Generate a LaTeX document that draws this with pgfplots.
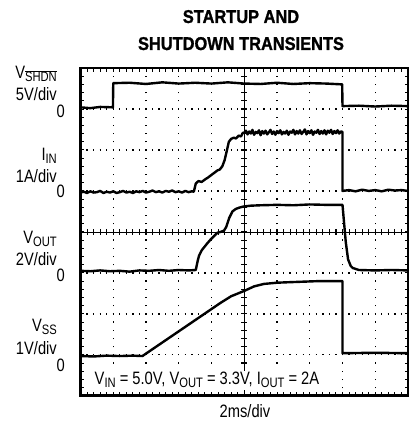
\documentclass[border=0pt]{standalone}
\usepackage{fontspec}
\setmainfont[FakeStretch=0.82]{Liberation Sans}
\newfontfamily\titlefont[FakeStretch=0.885, BoldFeatures={FakeBold=1.2}]{Liberation Sans}
\usepackage{pgfplots}
\pgfplotsset{compat=1.18}
\pgfplotsset{trace/.style={black, no markers, line width=2.4bp, line join=round}}
\newcommand\lab{\fontsize{18}{20}\selectfont}
\newcommand\sub[1]{\raisebox{-3bp}{\fontsize{13.7}{14}\selectfont #1}}
\newcommand\subo[1]{\raisebox{-3bp}{$\overline{\hbox{\fontsize{13.7}{14}\selectfont #1}}$}}
\begin{document}
\begin{tikzpicture}
\path[use as bounding box] (0,0) rectangle (413bp,429bp);
% graticule
\begin{scope}[shift={(80.5bp,33.2bp)}, x=32.75bp, y=40.97bp]
  \foreach \k in {1,2,3,5,6,7}
    \draw[line width=1.3bp, dash pattern=on 1.3bp off 5.25bp, dash phase=0.65bp] (0,\k) -- (10,\k);
  \foreach \k in {1,2,3,4,6,7,8,9}
    \draw[line width=1.3bp, dash pattern=on 1.3bp off 6.894bp, dash phase=0.65bp] (\k,0) -- (\k,8);
  \draw[line width=0.7bp] (5,0) -- (5,8);
  \draw[line width=0.7bp] (0,4) -- (10,4);
  \foreach \i in {1,...,39}
    \draw[line width=1.1bp] ([xshift=-3bp]5,\i*0.2) -- ([xshift=3bp]5,\i*0.2);
  \foreach \i in {1,...,49}
    \draw[line width=1.1bp] ([yshift=-3bp]\i*0.2,4) -- ([yshift=3bp]\i*0.2,4);
  \foreach \i in {1,...,49} {
    \draw[line width=1bp] (\i*0.2,0) -- ([yshift=3.5bp]\i*0.2,0);
    \draw[line width=1bp] (\i*0.2,8) -- ([yshift=-3.5bp]\i*0.2,8);
  }
  \foreach \i in {1,...,39} {
    \draw[line width=1bp] (0,\i*0.2) -- ([xshift=3.5bp]0,\i*0.2);
    \draw[line width=1bp] (10,\i*0.2) -- ([xshift=-3.5bp]10,\i*0.2);
  }
\end{scope}
\begin{axis}[
  at={(80.5bp,33.2bp)}, anchor=south west,
  scale only axis, width=327.5bp, height=327.8bp,
  xmin=0, xmax=10, ymin=0, ymax=8,
  xtick=\empty, ytick=\empty,
  axis line style={line width=2.8bp},
]
% V_SHDN
\addplot[trace] coordinates {(0,7.04) (0.3,7.02) (0.6,7.05) (0.99,7.04) (1.0,7.63) (1.5,7.64) (2,7.61) (2.5,7.65) (3,7.62) (3.5,7.64) (4,7.62) (4.5,7.65) (5,7.62) (5.5,7.61) (6,7.64) (6.5,7.61) (7,7.63) (7.5,7.62) (7.99,7.60) (8.0,7.07) (8.5,7.08) (9,7.06) (9.5,7.08) (10,7.07)};
% I_IN
\addplot[trace] coordinates {(0,4.96) (0.1,4.98) (0.2,4.95) (0.3,4.99) (0.4,4.96) (0.5,4.97) (0.6,5.0) (0.7,4.95) (0.8,4.98) (0.9,4.96) (1.0,4.99) (1.1,4.95) (1.2,4.97) (1.3,5.0) (1.4,4.96) (1.5,4.98) (1.6,4.95) (1.7,4.99) (1.8,4.97) (1.9,5.0) (2.0,4.96) (2.1,4.98) (2.2,5.01) (2.3,4.97) (2.4,4.99) (2.5,4.96) (2.6,5.0) (2.7,4.98) (2.8,5.01) (2.9,4.97) (3.0,4.99) (3.1,4.96) (3.2,5.0) (3.3,4.97) (3.4,4.99) (3.46,4.98)
(3.52,5.18) (3.6,5.24) (3.7,5.22) (3.82,5.29) (3.9,5.33) (4.03,5.41) (4.1,5.45) (4.18,5.5) (4.25,5.52) (4.33,5.6) (4.4,5.75) (4.45,5.92) (4.53,6.2) (4.6,6.27) (4.68,6.3) (4.75,6.28) (4.83,6.35) (4.9,6.33) (4.96,6.42)
(5.00,6.42) (5.05,6.47) (5.10,6.38) (5.15,6.45) (5.20,6.40) (5.25,6.49) (5.30,6.37) (5.35,6.44) (5.40,6.41) (5.45,6.48) (5.50,6.36) (5.55,6.46) (5.60,6.40) (5.65,6.47) (5.70,6.38) (5.75,6.43) (5.80,6.49) (5.85,6.39) (5.90,6.45) (5.95,6.37) (6.00,6.46) (6.05,6.41) (6.10,6.48) (6.15,6.38) (6.20,6.44) (6.25,6.40) (6.30,6.47) (6.35,6.37) (6.40,6.45) (6.45,6.42) (6.50,6.49) (6.55,6.38) (6.60,6.46) (6.65,6.40) (6.70,6.48) (6.75,6.39) (6.80,6.44) (6.85,6.50) (6.90,6.38) (6.95,6.46) (7.00,6.41) (7.05,6.48) (7.10,6.37) (7.15,6.45) (7.20,6.42) (7.25,6.49) (7.30,6.39) (7.35,6.46) (7.40,6.40) (7.45,6.48) (7.50,6.38) (7.55,6.47) (7.60,6.42) (7.65,6.49) (7.70,6.39) (7.75,6.46) (7.80,6.41) (7.85,6.48) (7.90,6.40) (7.95,6.45) (8.00,6.44)
(8.00,5.00) (8.2,5.02) (8.4,4.99) (8.6,5.03) (8.8,5.00) (9.0,5.02) (9.2,4.99) (9.4,5.03) (9.6,5.01) (9.8,5.02) (10,5.0)};
% V_OUT
\addplot[trace] coordinates {(0,3.05) (0.3,3.04) (0.6,3.06) (0.9,3.04) (1.2,3.05) (1.5,3.03) (1.8,3.06) (2.1,3.05) (2.4,3.07) (2.7,3.05) (3.0,3.07) (3.3,3.06) (3.52,3.07)
(3.58,3.3) (3.62,3.42) (3.7,3.55) (3.77,3.62) (3.87,3.72) (3.98,3.82) (4.08,3.9) (4.18,3.98) (4.28,4.0) (4.38,4.03) (4.45,4.12) (4.54,4.34) (4.64,4.5) (4.74,4.56) (4.84,4.59) (4.98,4.62) (5.2,4.64) (5.5,4.65) (6,4.66) (6.5,4.65) (7,4.67) (7.5,4.66) (8.0,4.66)
(8.05,4.2) (8.1,3.75) (8.17,3.33) (8.25,3.17) (8.31,3.12) (8.5,3.07) (9,3.06) (9.5,3.07) (10,3.06)};
% V_SS
\addplot[trace] coordinates {(0,0.97) (0.4,0.96) (0.8,0.98) (1.2,0.97) (1.6,0.98) (1.89,0.97) (4.28,2.27) (4.6,2.43) (5.0,2.56) (5.3,2.67) (5.6,2.73) (6.0,2.76) (6.3,2.77) (7.3,2.8) (8.0,2.8) (8.0,1.04) (9,1.05) (10,1.04)};
\end{axis}
% annotation
\node[anchor=base west, fill=white, inner sep=1.5bp] at (93bp,44bp) {\lab V\sub{IN} = 5.0V, V\sub{OUT} = 3.3V, I\sub{OUT} = 2A};
% title
\node[anchor=base] at (241bp,406bp) {\titlefont\bfseries\fontsize{18.6}{20}\selectfont STARTUP AND};
\node[anchor=base] at (241bp,379bp) {\titlefont\bfseries\fontsize{18.6}{20}\selectfont SHUTDOWN TRANSIENTS};
% x label
\node[anchor=base] at (245bp,12bp) {\lab 2ms/div};
% channel labels
\node[anchor=base east, inner sep=0] at (57bp,350bp) {\lab V\subo{SHDN}};
\node[anchor=base east, inner sep=0] at (57bp,328bp) {\lab 5V/div};
\node[anchor=base east, inner sep=0] at (65bp,311.3bp) {\lab 0};
\node[anchor=base east, inner sep=0] at (57bp,268bp) {\lab I\sub{IN}};
\node[anchor=base east, inner sep=0] at (57bp,246bp) {\lab 1A/div};
\node[anchor=base east, inner sep=0] at (65bp,231bp) {\lab 0};
\node[anchor=base east, inner sep=0] at (57bp,185bp) {\lab V\sub{OUT}};
\node[anchor=base east, inner sep=0] at (57bp,163.3bp) {\lab 2V/div};
\node[anchor=base east, inner sep=0] at (65bp,147.3bp) {\lab 0};
\node[anchor=base east, inner sep=0] at (57bp,97.3bp) {\lab V\sub{SS}};
\node[anchor=base east, inner sep=0] at (57bp,74bp) {\lab 1V/div};
\node[anchor=base east, inner sep=0] at (65bp,57.3bp) {\lab 0};
\end{tikzpicture}
\end{document}
